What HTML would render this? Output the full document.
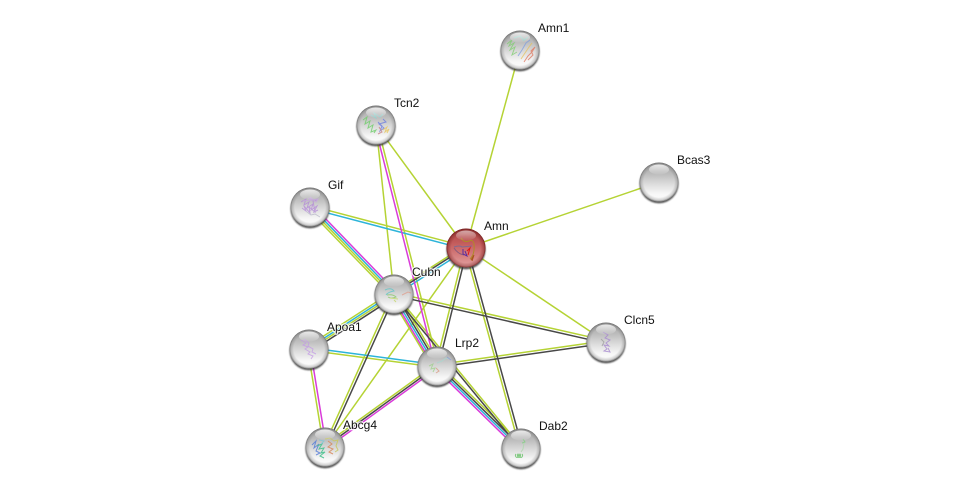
<!DOCTYPE html>
<html>
<head>
<meta charset="utf-8">
<style>
html,body{margin:0;padding:0;background:#fff;width:975px;height:493px;overflow:hidden}
svg{display:block}
text{font-family:"Liberation Sans",sans-serif;font-size:12px;fill:#111;paint-order:stroke;stroke:#fff;stroke-width:2.5px;stroke-opacity:.85;stroke-linejoin:round}
.g line{stroke:#b5d334}.c line{stroke:#2db4d9}.m line{stroke:#d93bd9}.k line{stroke:#484848}
.s polyline,.s path{fill:none;stroke-width:1}
</style>
</head>
<body>
<svg width="975" height="493" viewBox="0 0 975 493" xmlns="http://www.w3.org/2000/svg">
<defs>
<linearGradient id="gb" x1="0" y1="0" x2="0" y2="1">
<stop offset="0" stop-color="#a2a2a2"/>
<stop offset=".3" stop-color="#bdbdbd"/>
<stop offset=".55" stop-color="#dcdcdc"/>
<stop offset=".8" stop-color="#f7f7f7"/>
<stop offset="1" stop-color="#fdfdfd"/>
</linearGradient>
<linearGradient id="rb" x1="0" y1="0" x2="0" y2="1">
<stop offset="0" stop-color="#a84444"/>
<stop offset=".35" stop-color="#c25a5a"/>
<stop offset=".7" stop-color="#d57f7f"/>
<stop offset="1" stop-color="#e4a4a4"/>
</linearGradient>
<radialGradient id="rim" cx="50%" cy="50%" r="50%">
<stop offset="0" stop-color="#666" stop-opacity="0"/>
<stop offset=".78" stop-color="#666" stop-opacity="0"/>
<stop offset=".93" stop-color="#666" stop-opacity=".3"/>
<stop offset="1" stop-color="#555" stop-opacity=".75"/>
</radialGradient>
<radialGradient id="rimr" cx="50%" cy="50%" r="50%">
<stop offset="0" stop-color="#701818" stop-opacity="0"/>
<stop offset=".75" stop-color="#701818" stop-opacity="0"/>
<stop offset=".93" stop-color="#701818" stop-opacity=".4"/>
<stop offset="1" stop-color="#601010" stop-opacity=".85"/>
</radialGradient>
<linearGradient id="hl" x1="0" y1="0" x2="0" y2="1">
<stop offset="0" stop-color="#fff" stop-opacity=".8"/>
<stop offset="1" stop-color="#fff" stop-opacity=".05"/>
</linearGradient>
<filter id="bl" x="-30%" y="-30%" width="160%" height="160%"><feGaussianBlur stdDeviation=".9"/></filter>
<g id="shadow"><ellipse cx="0" cy="1.8" rx="19.6" ry="19.6" fill="#333" opacity=".8" filter="url(#bl)"/></g>
<g id="gloss">
<circle r="19.5" fill="url(#rim)"/>
<ellipse cx="0" cy="-12.5" rx="10" ry="5" fill="url(#hl)"/>
</g>
<g id="glossr">
<circle r="19.5" fill="url(#rimr)"/>
<ellipse cx="0" cy="-12.5" rx="10" ry="5" fill="url(#hl)" opacity=".7"/>
</g>
</defs>

<g fill="none" stroke-width="1.5">
<g class="g">
<line x1="520" y1="50" x2="466" y2="248"/>
<line x1="376" y1="125" x2="466" y2="248"/>
<line x1="659" y1="182" x2="466" y2="248"/>
<line x1="606" y1="342" x2="466" y2="248"/>
<line x1="376" y1="125" x2="394" y2="294"/>
<line x1="325" y1="447" x2="466" y2="248"/>
<line x1="310.3" y1="205.7" x2="466.3" y2="246.7"/>
<line x1="377.3" y1="124.7" x2="438.3" y2="365.7"/>
<line x1="309.3" y1="207.7" x2="393.3" y2="294.7"/>
<line x1="307.8" y1="209.1" x2="391.8" y2="296.1"/>
<line x1="392.65" y1="291.9" x2="464.65" y2="245.9"/>
<line x1="392.4" y1="291.5" x2="307.4" y2="346.5"/>
<line x1="394.5" y1="294.8" x2="309.5" y2="349.8"/>
<line x1="396.6" y1="292.5" x2="439.6" y2="364.5"/>
<line x1="390.1" y1="296.3" x2="433.1" y2="368.3"/>
<line x1="394.8" y1="293.4" x2="521.8" y2="447.4"/>
<line x1="439.1" y1="363.9" x2="523.1" y2="445.9"/>
<line x1="392.8" y1="293.5" x2="323.8" y2="446.5"/>
<line x1="394.3" y1="292.7" x2="606.3" y2="340.7"/>
<line x1="435.7" y1="365.7" x2="464.7" y2="247.7"/>
<line x1="436.8" y1="364.7" x2="605.8" y2="340.7"/>
<line x1="436.8" y1="367.3" x2="308.8" y2="350.3"/>
<line x1="435.8" y1="364.4" x2="323.8" y2="445.4"/>
<line x1="307.7" y1="349.2" x2="323.7" y2="447.2"/>
<line x1="464.8" y1="248.3" x2="519.8" y2="448.3"/>
</g>
<g class="c">
<line x1="309.7" y1="208.3" x2="465.7" y2="249.3"/>
<line x1="310.7" y1="206.3" x2="394.7" y2="293.3"/>
<line x1="394.9" y1="295.3" x2="466.9" y2="249.3"/>
<line x1="393.5" y1="293.2" x2="308.5" y2="348.2"/>
<line x1="393.1" y1="294.5" x2="436.1" y2="366.5"/>
<line x1="436.3" y1="366.7" x2="520.3" y2="448.7"/>
<line x1="437.2" y1="364.7" x2="309.2" y2="347.7"/>
</g>
<g class="m">
<line x1="374.7" y1="125.3" x2="435.7" y2="366.3"/>
<line x1="312.2" y1="204.9" x2="396.2" y2="291.9"/>
<line x1="391.4" y1="295.5" x2="434.4" y2="367.5"/>
<line x1="434.9" y1="368.2" x2="518.9" y2="450.2"/>
<line x1="438.2" y1="367.6" x2="326.2" y2="448.6"/>
<line x1="310.3" y1="348.8" x2="326.3" y2="446.8"/>
</g>
<g class="k">
<line x1="393.6" y1="293.3" x2="465.6" y2="247.3"/>
<line x1="395.6" y1="296.5" x2="310.6" y2="351.5"/>
<line x1="394.9" y1="293.5" x2="437.9" y2="365.5"/>
<line x1="393.2" y1="294.6" x2="520.2" y2="448.6"/>
<line x1="437.7" y1="365.3" x2="521.7" y2="447.3"/>
<line x1="395.2" y1="294.5" x2="326.2" y2="447.5"/>
<line x1="393.7" y1="295.3" x2="605.7" y2="343.3"/>
<line x1="438.3" y1="366.3" x2="467.3" y2="248.3"/>
<line x1="437.2" y1="367.3" x2="606.2" y2="343.3"/>
<line x1="437" y1="366" x2="325" y2="447"/>
<line x1="467.3" y1="247.7" x2="522.3" y2="447.7"/>
</g>
</g>

<!-- Amn1 -->
<g transform="translate(520,50)">
<use href="#shadow"/><circle r="19.5" fill="url(#gb)"/>
<g class="s" opacity=".75">
<polyline points="-13,-6 -8,-10 -11,-4 -6,-7 -10,0 -5,-3 -8,5 -3,2" stroke="#7fce6f" stroke-width="2"/>
<polyline points="-6,-12 0,-14 4,-10 8,-13 3,-9" stroke="#7fd6c8" stroke-width="2"/>
<polyline points="-2,6 2,0 6,-7 10,-10" stroke="#7f9ee0" stroke-width="2.2"/>
<polyline points="1,9 5,3 9,-3 12,-7" stroke="#e8c15a" stroke-width="2.2"/>
<polyline points="4,12 8,6 12,2 15,-3 11,1 13,5 8,10" stroke="#e0745a" stroke-width="2.2"/>
</g>
<use href="#gloss"/>
</g>
<!-- Tcn2 -->
<g transform="translate(376,125)">
<use href="#shadow"/><circle r="19.5" fill="url(#gb)"/>
<g class="s" opacity=".8">
<polyline points="-13,-5 -9,-8 -11,-1 -6,-4 -8,3 -3,0 -5,7 0,5 -2,8" stroke="#6fcf6a" stroke-width="2"/>
<polyline points="-5,-10 0,-7 -2,-12 4,-8 7,-11" stroke="#8fd4d0" stroke-width="1.4"/>
<polyline points="2,-3 6,1 4,6 8,3 3,-1 10,-3 7,-6" stroke="#6f7fe0" stroke-width="1.6"/>
<polyline points="7,5 11,2 9,7 13,4 11,8" stroke="#e8c65f" stroke-width="1.6"/>
<polyline points="3,2 6,7 2,9" stroke="#c88080"/>
</g>
<use href="#gloss"/>
</g>
<!-- Bcas3 -->
<g transform="translate(659,182)">
<use href="#shadow"/><circle r="19.5" fill="url(#gb)"/>
<use href="#gloss"/>
</g>
<!-- Gif -->
<g transform="translate(310,207)">
<use href="#shadow"/><circle r="19.5" fill="url(#gb)"/>
<g class="s" opacity=".75">
<polyline points="-9,-5 -4,-8 -6,-2 -1,-5 -3,1 3,-3 1,3 7,-1 4,5 8,3" stroke="#b48ad8" stroke-width="1.7"/>
<polyline points="-8,1 -4,4 -6,-1 0,6 -1,0 5,5 3,-6 7,-7" stroke="#b48ad8" stroke-width="1.6"/>
<polyline points="-2,-9 2,-6 0,-10 6,-5 8,-8 -7,-6" stroke="#c7a6e2" stroke-width="1.3"/>
<polyline points="-3,5 1,8 5,7 10,10" stroke="#b8b8c8"/>
</g>
<use href="#gloss"/>
</g>
<!-- Amn -->
<g transform="translate(466,248)">
<use href="#shadow"/><circle r="19.5" fill="url(#rb)"/>
<g class="s">
<path d="M-5,-10 Q-2,-5 3,-7 Q7,-9 8,-4 Q9,6 4,11" stroke="#b08a28"/>
<path d="M-12,-1 Q-6,-3 -4,-1 L6,-2" stroke="#806a90"/>
<path d="M-12,0 Q-8,6 -2,7" stroke="#8a5a7a"/>
<polyline points="-3,1 -3,6 1,8 -1,3" stroke="#5a2aa0" stroke-width="3"/>
<polyline points="1,3 4,0 2,7" stroke="#e01818" stroke-width="2.5"/>
<polyline points="5,12 8,7 6,13" stroke="#a8551c" stroke-width="2.6"/>
</g>
<use href="#glossr"/>
</g>
<!-- Cubn -->
<g transform="translate(394,294)">
<use href="#shadow"/><circle r="19.5" fill="url(#gb)"/>
<g class="s" opacity=".8">
<path d="M-9,-4 Q-3,-7 0,-3 Q-6,-2 -8,1" stroke="#62c6c8" stroke-width="1.4"/>
<path d="M-7,1 Q-1,0 2,3 Q-3,5 -6,3" stroke="#8ac86a" stroke-width="1.4"/>
<path d="M-4,4 L4,5 M0,6 L2,8" stroke="#c6d86a"/>
<path d="M8,1 L14,-2 L17,-1" stroke="#e0a090"/>
</g>
<use href="#gloss"/>
</g>
<!-- Clcn5 -->
<g transform="translate(606,342)">
<use href="#shadow"/><circle r="19.5" fill="url(#gb)"/>
<g class="s" opacity=".8">
<polyline points="-3,-10 2,-7 -1,-4 4,-2 0,1 3,4 -2,3 1,7 -2,9 4,10 2,6" stroke="#a88ad0" stroke-width="1.7"/>
<polyline points="-5,-3 -2,0 -4,4" stroke="#a0a0a0"/>
</g>
<use href="#gloss"/>
</g>
<!-- Apoa1 -->
<g transform="translate(309,349)">
<use href="#shadow"/><circle r="19.5" fill="url(#gb)"/>
<g class="s" opacity=".75">
<polyline points="-8,-9 -3,-6 -6,-4 -1,-2 -4,0 1,3 -1,5 4,7 2,10" stroke="#c39ae6" stroke-width="2"/>
<polyline points="-5,-10 0,-6 -1,-3 4,0 3,3 7,5" stroke="#c39ae6" stroke-width="1.6"/>
</g>
<use href="#gloss"/>
</g>
<!-- Lrp2 -->
<g transform="translate(437,366)">
<use href="#shadow"/><circle r="19.5" fill="url(#gb)"/>
<g class="s" opacity=".75">
<polyline points="-8,0 -4,-2 -6,3 -2,2 -4,6" stroke="#9ed08a" stroke-width="1.5"/>
<polyline points="-1,2 2,5 -1,7" stroke="#d89880"/>
<polyline points="0,-3 5,-5 9,-8 13,-7" stroke="#a8d8d0"/>
<polyline points="10,-9 14,-6" stroke="#8a9ad8"/>
</g>
<use href="#gloss"/>
</g>
<!-- Abcg4 -->
<g transform="translate(325,447)">
<use href="#shadow"/><circle r="19.5" fill="url(#gb)"/>
<g class="s" opacity=".85">
<polyline points="-13,-2 -9,-6 -11,1 -6,-3 -9,4 -5,6 -9,8" stroke="#5a80d8" stroke-width="1.7"/>
<polyline points="-8,-1 -3,-3 -6,2 -1,1 -4,6 0,5 -5,9 -1,11" stroke="#3fc08a" stroke-width="2.2"/>
<polyline points="3,-6 7,-3 3,0 8,2 4,5 8,7" stroke="#d8885a" stroke-width="2"/>
<polyline points="0,-8 5,-9 9,-6 13,-7 11,-1 13,3 10,5" stroke="#c8c860" stroke-width="1.6"/>
<polyline points="-6,-7 -1,-6 -4,-3" stroke="#80c8d8" stroke-width="1.2"/>
</g>
<use href="#gloss"/>
</g>
<!-- Dab2 -->
<g transform="translate(521,448)">
<use href="#shadow"/><circle r="19.5" fill="url(#gb)"/>
<g class="s" opacity=".85">
<polyline points="2,-9 4,-6 1,-5" stroke="#86cf86" stroke-width="1.3"/>
<polyline points="3,-5 2,1 0,4" stroke="#b0d8b0" stroke-width=".7"/>
<path d="M-5,6 a1.5,2 0 1 0 2,0 a1.5,2 0 1 0 2,0 a1.5,2 0 1 0 2,0" stroke="#6fc46f" stroke-width="1.2"/>
</g>
<use href="#gloss"/>
</g>

<text x="538" y="32">Amn1</text>
<text x="394" y="107">Tcn2</text>
<text x="677" y="164">Bcas3</text>
<text x="328" y="189">Gif</text>
<text x="484" y="230">Amn</text>
<text x="412" y="276">Cubn</text>
<text x="624" y="324">Clcn5</text>
<text x="327" y="331">Apoa1</text>
<text x="455" y="347">Lrp2</text>
<text x="343" y="429">Abcg4</text>
<text x="539" y="430">Dab2</text>
</svg>
</body>
</html>
